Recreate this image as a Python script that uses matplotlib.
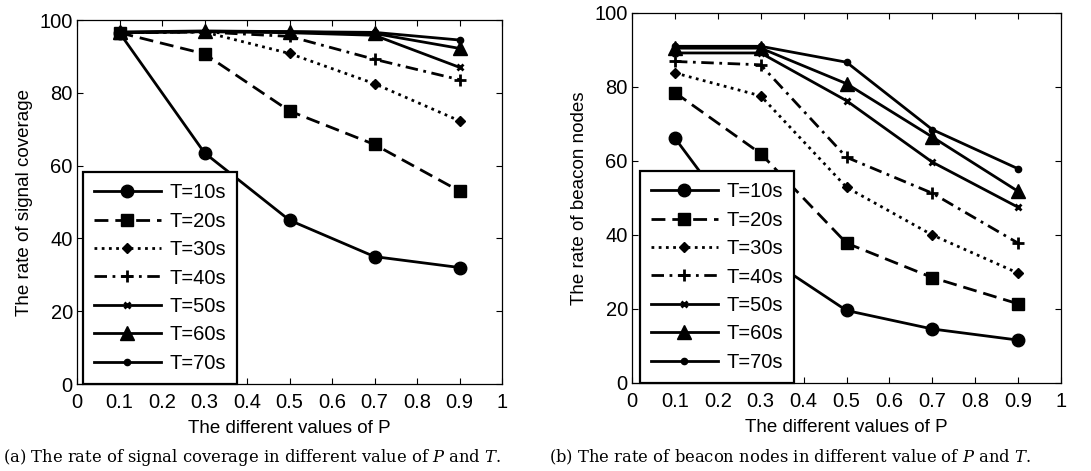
import matplotlib
matplotlib.use("Agg")
import matplotlib.pyplot as plt

# Probability values P on the x axis
p_values = [0.1, 0.3, 0.5, 0.7, 0.9]
series_labels = ["T=10s", "T=20s", "T=30s", "T=40s", "T=50s", "T=60s", "T=70s"]

# (a) rate of signal coverage (%)
coverage_t10 = [96.5, 63.5, 45.0, 35.0, 32.0]
coverage_t20 = [96.5, 90.7, 75.0, 65.8, 53.0]
coverage_t30 = [96.5, 96.7, 90.8, 82.5, 72.3]
coverage_t40 = [96.5, 96.7, 95.5, 89.2, 83.6]
coverage_t50 = [96.5, 96.8, 96.5, 95.8, 87.0]
coverage_t60 = [96.7, 97.0, 96.8, 96.3, 92.2]
coverage_t70 = [96.6, 96.8, 96.8, 96.6, 94.5]

# (b) rate of beacon nodes (%)
beacon_t10 = [66.2, 35.0, 19.6, 14.6, 11.6]
beacon_t20 = [78.5, 62.0, 37.8, 28.5, 21.4]
beacon_t30 = [83.8, 77.6, 52.9, 40.0, 29.7]
beacon_t40 = [86.9, 86.0, 61.0, 51.3, 37.8]
beacon_t50 = [89.2, 89.2, 76.3, 59.7, 47.5]
beacon_t60 = [90.5, 90.5, 80.9, 66.5, 51.8]
beacon_t70 = [91.0, 91.0, 86.7, 68.5, 57.9]

x_ticks = [0, 0.1, 0.2, 0.3, 0.4, 0.5, 0.6, 0.7, 0.8, 0.9, 1]
x_tick_labels = ["0", "0.1", "0.2", "0.3", "0.4", "0.5", "0.6", "0.7", "0.8", "0.9", "1"]
y_ticks = [0, 20, 40, 60, 80, 100]

coverage = [coverage_t10, coverage_t20, coverage_t30, coverage_t40,
            coverage_t50, coverage_t60, coverage_t70]
beacon = [beacon_t10, beacon_t20, beacon_t30, beacon_t40,
          beacon_t50, beacon_t60, beacon_t70]

plt.rcParams["font.family"] = ["Liberation Sans", "DejaVu Sans"]
plt.rcParams["mathtext.fontset"] = "dejavuserif"

# line style, marker, marker size for each T
styles = [
    dict(linestyle="-", marker="o", markersize=9),
    dict(linestyle=(0, (5, 2.5)), marker="s", markersize=9),
    dict(linestyle=(0, (1, 1.6)), marker="D", markersize=5.5),
    dict(linestyle=(0, (4.5, 2, 1, 2)), marker="+", markersize=8, markeredgewidth=2),
    dict(linestyle="-", marker="x", markersize=4, markeredgewidth=2),
    dict(linestyle="-", marker="^", markersize=10.5),
    dict(linestyle="-", marker="o", markersize=4.5),
]

fig = plt.figure(figsize=(10.91, 4.71), dpi=100)
ax_a = fig.add_axes([77 / 1091, 87 / 471, 425 / 1091, 364 / 471])
ax_b = fig.add_axes([632 / 1091, 88 / 471, 429 / 1091, 370 / 471])

tick_fs = 14.5


def draw_panel(ax, data, ylabel, legend_x):
    for values, label, st in zip(data, series_labels, styles):
        ax.plot(p_values, values, color="black", linewidth=2.0,
                markerfacecolor="black", markeredgecolor="black",
                label=label, **st)
    ax.set_xlim(0, 1)
    ax.set_ylim(0, 100)
    ax.set_xticks(x_ticks)
    ax.set_xticklabels(x_tick_labels)
    ax.set_yticks(y_ticks)
    ax.tick_params(direction="in", top=True, right=True, length=4,
                   width=0.8, labelsize=tick_fs, pad=3)
    ax.tick_params(axis="x", pad=6.5)
    for s in ax.spines.values():
        s.set_linewidth(0.9)
    ax.set_xlabel("The different values of P", fontsize=13.5, labelpad=6)
    ax.set_ylabel(ylabel, fontsize=13.5, labelpad=5)
    leg = ax.legend(loc="lower left", bbox_to_anchor=(legend_x, 0.0),
                    borderaxespad=0, fontsize=14.5, handlelength=3.3,
                    handletextpad=0.45, labelspacing=0.47, borderpad=0.55,
                    fancybox=False, framealpha=1, edgecolor="black")
    leg.get_frame().set_linewidth(1.6)


draw_panel(ax_a, coverage, "The rate of signal coverage", 6 / 425)
draw_panel(ax_b, beacon, "The rate of beacon nodes", 8 / 429)

cap_fs = 11.8
fig.text(3 / 1091, 1 - 457 / 471,
         r"(a) The rate of signal coverage in different value of $P$ and $T$.",
         fontsize=cap_fs, family="DejaVu Serif", va="center", ha="left")
fig.text(549 / 1091, 1 - 457 / 471,
         r"(b) The rate of beacon nodes in different value of $P$ and $T$.",
         fontsize=cap_fs, family="DejaVu Serif", va="center", ha="left")

fig.savefig("out.png", dpi=100)
